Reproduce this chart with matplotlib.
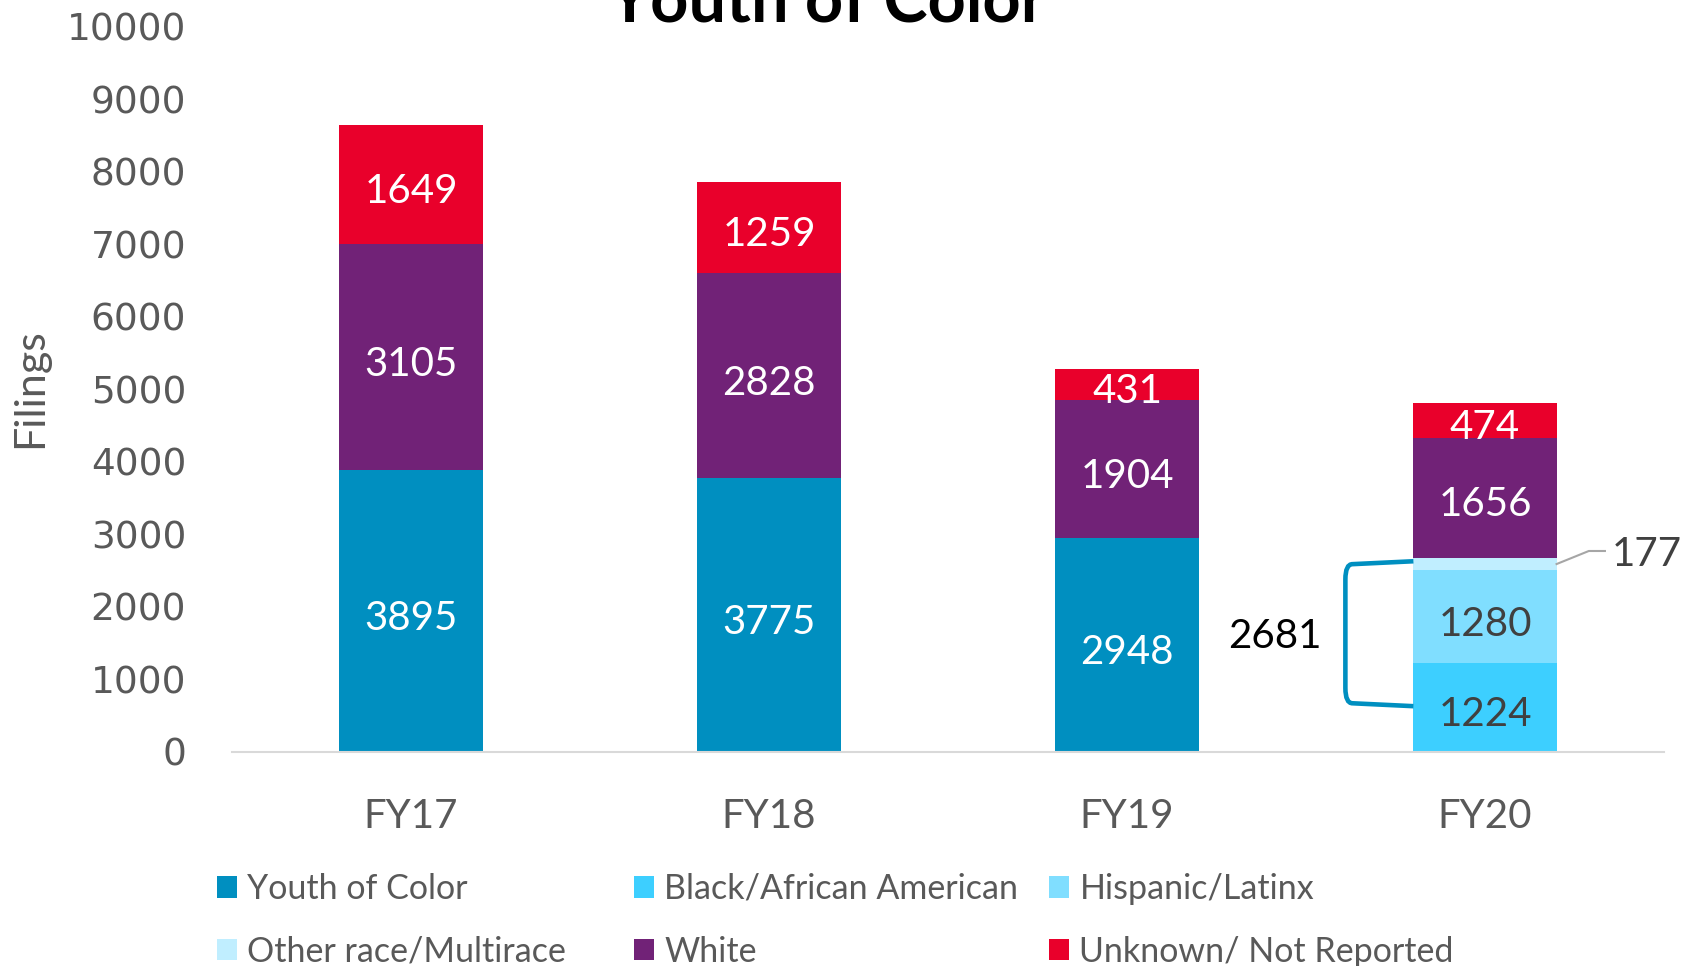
import matplotlib
matplotlib.use("Agg")
import matplotlib.pyplot as plt
import numpy as np
from matplotlib.patches import Patch
from matplotlib.path import Path
from matplotlib.patches import PathPatch

# donnees
years = ["FY17", "FY18", "FY19", "FY20"]
youth_of_color = [3895, 3775, 2948, 0]
black = [0, 0, 0, 1224]
hispanic = [0, 0, 0, 1280]
other_race = [0, 0, 0, 177]
white = [3105, 2828, 1904, 1656]
unknown = [1649, 1259, 431, 474]

series_names = ["Youth of Color", "Black/African American", "Hispanic/Latinx",
                "Other race/Multirace", "White", "Unknown/ Not Reported"]
series_vals = [youth_of_color, black, hispanic, other_race, white, unknown]
colors = ["#008FC0", "#3DCFFF", "#80DEFF", "#C0EEFF", "#712277", "#E9002B"]
label_colors = ["white", "#404040", "#404040", "#404040", "white", "white"]

yoc_total_fy20 = black[3] + hispanic[3] + other_race[3]  # 2681

W, H = 1700, 966
fig = plt.figure(figsize=(17, 9.66), dpi=100)
ax = fig.add_axes([232 / W, 1 - 752 / H, 1432 / W, 725 / H])

x = np.arange(len(years))
bar_w = 0.4
lab_dy = -100  # etiquettes un peu plus bas que le centre
bottom = np.zeros(len(years))
for name, vals, col, lcol in zip(series_names, series_vals, colors, label_colors):
    vals = np.array(vals, dtype=float)
    ax.bar(x, vals, bar_w, bottom=bottom, color=col, label=name, zorder=2)
    for i, v in enumerate(vals):
        if v <= 0:
            continue
        yc = bottom[i] + v / 2
        if name == "Other race/Multirace":
            # petite etiquette a l'exterieur avec trait de rappel
            xe = x[i] + bar_w / 2
            ax.plot([xe, xe + 0.09, xe + 0.135], [yc, yc + 180, yc + 180],
                    color="#A6A6A6", lw=1.5, clip_on=False, zorder=3)
            ax.text(xe + 0.155, yc + 180 + lab_dy / 2, f"{int(v)}", ha="left", va="center",
                    fontsize=29, family="Lato", color="#404040", clip_on=False)
        else:
            ax.text(x[i], yc + lab_dy, f"{int(v)}", ha="center", va="center",
                    fontsize=29, family="Lato", color=lcol, zorder=4)
    bottom += vals

# accolade autour du total Youth of Color pour FY20
xl = x[3] - bar_w / 2
xb = xl - 0.19
ytop = yoc_total_fy20 - 50
ybot = black[3] / 2 + 20
r = 0.02
verts = [(xl, ytop), (xb + r, ytop - 40), (xb, ytop - 40), (xb, ytop - 250),
         (xb, ybot + 250), (xb, ybot + 40), (xb + r, ybot + 40), (xl, ybot)]
codes = [Path.MOVETO, Path.LINETO, Path.CURVE3, Path.CURVE3,
         Path.LINETO, Path.CURVE3, Path.CURVE3, Path.LINETO]
ax.add_patch(PathPatch(Path(verts, codes), fill=False, edgecolor="#008FC0",
                       lw=3.3, capstyle="butt", zorder=3))
ax.text(xb - 0.065, (ytop + ybot) / 2 - 40, f"{yoc_total_fy20}", ha="right", va="center",
        fontsize=29, family="Lato", color="black")

ax.set_xlim(-0.5, 3.5)
ax.set_ylim(0, 10000)
ax.set_yticks(np.arange(0, 10001, 1000))
ax.set_xticks(x)
ax.set_xticklabels(years, fontsize=29, family="Lato", color="#595959")
for t in ax.get_yticklabels():
    t.set_fontsize(27)
    t.set_color("#595959")
ax.tick_params(axis="y", length=0, pad=33)
ax.tick_params(axis="x", length=0, pad=33)
for s in ["top", "right", "left"]:
    ax.spines[s].set_visible(False)
ax.spines["bottom"].set_color("#D9D9D9")
ax.spines["bottom"].set_linewidth(1.5)

fig.text(30 / W, 1 - 388 / H, "Filings", rotation=90, ha="center", va="center",
         fontsize=31, family="Lato", color="#595959")
fig.text(827 / W, 1 - 22 / H, "Youth of Color", ha="center", va="baseline",
         fontsize=48, family="Lato", weight="bold", color="black")

# legende en trois colonnes
col_x = [227, 644, 1059]
cols = [(0, 3), (1, 4), (2, 5)]
for cx, (a, b) in zip(col_x, cols):
    handles = [Patch(facecolor=colors[k], edgecolor="none") for k in (a, b)]
    fig.legend(handles, [series_names[a], series_names[b]], loc="upper left",
               bbox_to_anchor=(cx / W - 0.006, 1 - 873 / H), frameon=False,
               prop={"family": "Lato", "size": 24.5}, labelcolor="#595959",
               handlelength=0.6, handleheight=0.6, handletextpad=0.3,
               labelspacing=0.9, borderpad=0, borderaxespad=0)

fig.savefig("out.png", dpi=100)
